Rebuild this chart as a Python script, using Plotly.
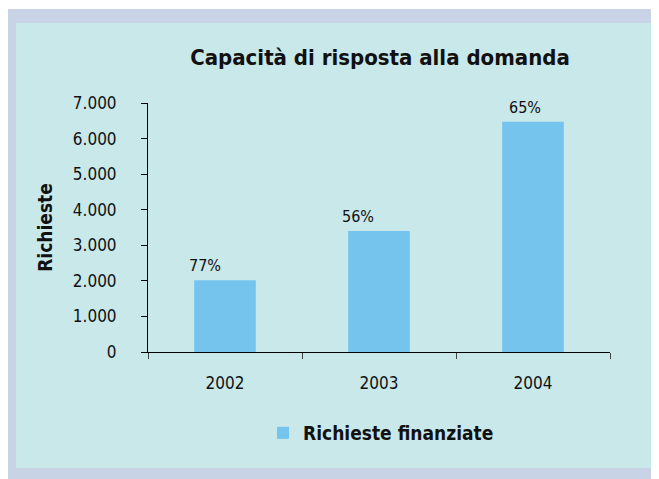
import plotly.graph_objects as go

years = ["2002", "2003", "2004"]
richieste_finanziate = [2020, 3400, 6470]
percent_labels = ["77%", "56%", "65%"]
y_ticks = [0, 1000, 2000, 3000, 4000, 5000, 6000, 7000]

# label offsets (style only, px)
label_xshift = [-20, -21, -8]

# figure coordinates (page is offset by the 8px body margin)
W, H = 651, 471
L, R, T, B = 140, 49, 95, 127
PW, PH = W - L - R, H - T - B

def px_x(p):
    return (p - L) / PW

def px_y(p):
    return (H - B - p) / PH

FONT = "DejaVu Sans Condensed, DejaVu Sans, sans-serif"
BAR = "#74C4EE"
PANEL = "#C8E8EA"
FRAME = "#C8D3E6"

fig = go.Figure()
fig.add_trace(go.Bar(
    x=years, y=richieste_finanziate, name="Richieste finanziate",
    marker=dict(color=BAR, line=dict(width=0)), width=0.4,
))

for i, (val, lab, dx) in enumerate(zip(richieste_finanziate, percent_labels, label_xshift)):
    fig.add_annotation(x=i, y=val, xref="x", yref="y", text=lab, showarrow=False,
                       xanchor="center", yanchor="bottom", xshift=dx, yshift=3,
                       font=dict(family=FONT, size=16, color="#111"))

fig.update_layout(
    width=W, height=H,
    margin=dict(l=L, r=R, t=T, b=B, pad=0),
    paper_bgcolor=FRAME, plot_bgcolor="rgba(0,0,0,0)",
    separators=",.",
    font=dict(family=FONT, color="#111"),
    title=dict(text="<b>Capacità di risposta alla domanda</b>", x=px_x(372), xref="paper",
               xanchor="center", y=1 - 49 / H, yref="container", yanchor="middle",
               font=dict(family=FONT, size=22, color="#111")),
    showlegend=True,
    legend=dict(orientation="h", x=px_x(255), y=px_y(425), xanchor="left", yanchor="middle",
                xref="paper", yref="paper", bgcolor="rgba(0,0,0,0)",
                font=dict(family=FONT, size=19, color="#111", weight="bold")),
    bargap=0.6,
    shapes=[
        dict(type="rect", xref="paper", yref="paper", layer="below",
             x0=px_x(0), x1=px_x(W), y0=px_y(-1), y1=px_y(1),
             fillcolor="white", line=dict(width=0)),
        dict(type="rect", xref="paper", yref="paper", layer="below",
             x0=px_x(8), x1=px_x(649), y0=px_y(15), y1=px_y(460),
             fillcolor=PANEL, line=dict(width=0)),
    ],
)

fig.update_xaxes(
    type="category", categoryorder="array", categoryarray=years,
    range=[-0.5, len(years) - 0.5],
    showline=True, linecolor="black", linewidth=1,
    ticks="outside", tickson="boundaries", ticklen=6, tickcolor="#444", tickwidth=1,
    showgrid=False, zeroline=False,
    tickfont=dict(family=FONT, size=17, color="#111"), ticklabelstandoff=16,
)
fig.update_yaxes(
    range=[0, 7000], tickvals=y_ticks, tickformat=",d",
    showline=True, linecolor="black", linewidth=1,
    ticks="outside", ticklen=6, tickcolor="black", tickwidth=1,
    showgrid=False, zeroline=False,
    tickfont=dict(family=FONT, size=17, color="#111"), ticklabelstandoff=21,
    title=dict(text="<b>Richieste</b>", font=dict(family=FONT, size=19, color="#111"), standoff=15),
)

fig.write_html("out.html")
